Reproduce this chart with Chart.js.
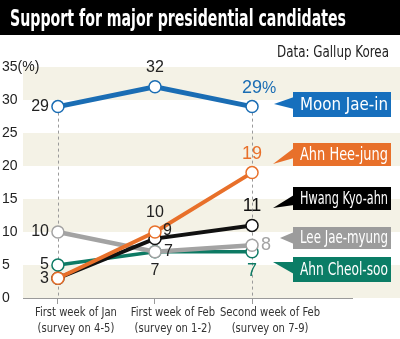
<!DOCTYPE html>
<html>
<head>
<meta charset="utf-8">
<script src="https://cdn.jsdelivr.net/npm/chart.js@4/dist/chart.umd.min.js"></script>
<style>
  html, body { margin: 0; padding: 0; background: #fff; }
  #wrap { width: 400px; height: 339px; }
</style>
</head>
<body>
<div id="wrap"><canvas id="pollChart" width="400" height="339"></canvas></div>
<script>
// survey rounds and support (%) per candidate
const surveyWeeks = [
  ['First week of Jan', '(survey on 4-5)'],
  ['First week of Feb', '(survey on 1-2)'],
  ['Second week of Feb', '(survey on 7-9)']
];
const candidates = ['Moon Jae-in', 'Ahn Hee-jung', 'Hwang Kyo-ahn', 'Lee Jae-myung', 'Ahn Cheol-soo'];
const moonJaeIn = [29, 32, 29];
const ahnHeeJung = [3, 10, 19];
const hwangKyoAhn = [3, 9, 11];
const leeJaeMyung = [10, 7, 8];
const ahnCheolSoo = [5, 7, 7];
const yTicks = [0, 5, 10, 15, 20, 25, 30, 35];

const NARROW = '"Liberation Sans Narrow", "DejaVu Sans Condensed", "Arial Narrow", sans-serif';
const PLAIN = '"Liberation Sans", Arial, sans-serif';

const colors = ['#1a6db4', '#e8702a', '#111111', '#a3a3a3', '#0d7a64'];
const tagColors = ['#166fbd', '#e8702a', '#000000', '#9c9c9c', '#0b7d66'];

// where each value label sits relative to its point
const labelSides = [
  ['left', 'top', 'top'],
  ['left', 'top', 'top'],
  [null, 'upright', 'top'],
  ['left', 'right', 'right'],
  ['left', 'bottom', 'bottom']
];

function series(i, values, width) {
  return {
    label: candidates[i],
    data: values.map((v, k) => ({ x: k, y: v })),
    borderColor: colors[i],
    borderWidth: width,
    pointRadius: 6,
    pointHoverRadius: 6,
    pointBorderWidth: 1.5,
    pointBorderColor: colors[i],
    pointBackgroundColor: '#ffffff',
    tension: 0,
    clip: false,
    sides: labelSides[i]
  };
}

// alternating shaded bands + title strip
const backdrop = {
  id: 'backdrop',
  beforeDraw(chart) {
    const { ctx, chartArea, scales: { y } } = chart;
    ctx.save();
    ctx.fillStyle = '#f4f2e6';
    for (let v = 0; v < 35; v += 10) {
      const top = y.getPixelForValue(v + 5), bottom = y.getPixelForValue(v);
      ctx.fillRect(chartArea.left, top, chart.width - chartArea.left, bottom - top);
    }
    ctx.fillStyle = '#000';
    ctx.fillRect(0, 0, chart.width, 35);
    ctx.fillStyle = '#fff';
    ctx.font = 'bold 23px ' + NARROW;
    ctx.textBaseline = 'alphabetic';
    ctx.textAlign = 'left';
    ctx.fillText('Support for major presidential candidates', 10, 26, 336);
    ctx.fillStyle = '#222';
    ctx.font = '15px ' + NARROW;
    ctx.textAlign = 'right';
    ctx.fillText('Data: Gallup Korea', 389, 57, 112);
    ctx.restore();
  }
};

// dashed guides at the first and last survey
const guides = {
  id: 'guides',
  beforeDatasetsDraw(chart) {
    const { ctx, scales: { x, y } } = chart;
    ctx.save();
    ctx.strokeStyle = '#9a9a9a';
    ctx.lineWidth = 1;
    ctx.setLineDash([3, 3]);
    [0, 2].forEach(k => {
      const px = Math.round(x.getPixelForValue(k)) + 0.5;
      ctx.beginPath();
      ctx.moveTo(px, y.getPixelForValue(moonJaeIn[k]));
      ctx.lineTo(px, y.getPixelForValue(0));
      ctx.stroke();
    });
    ctx.restore();
  }
};

// axis texts that need squeezing: the (%) unit and the two-line week labels
const axisText = {
  id: 'axisText',
  afterDraw(chart) {
    const { ctx, scales: { x, y } } = chart;
    ctx.save();
    ctx.fillStyle = '#222';
    ctx.font = '14px ' + PLAIN;
    ctx.textAlign = 'left';
    ctx.textBaseline = 'middle';
    ctx.fillText('(%)', 2 + ctx.measureText('35').width, y.getPixelForValue(35));
    ctx.fillStyle = '#333';
    ctx.font = '13px ' + NARROW;
    ctx.textAlign = 'center';
    // squeeze every label by the same factor
    const squeeze = Math.min(1, 82 / ctx.measureText(surveyWeeks[0][0]).width);
    const base = y.getPixelForValue(0);
    surveyWeeks.forEach((lines, k) => {
      const cx = x.getPixelForValue(k) + 18;
      lines.forEach((line, n) => {
        const w = ctx.measureText(line).width * squeeze;
        ctx.fillText(line, cx, base + 15 + n * 16, w);
      });
    });
    ctx.restore();
  }
};

// numbers next to the points
const valueLabels = {
  id: 'valueLabels',
  afterDatasetsDraw(chart) {
    const { ctx } = chart;
    ctx.save();
    ctx.textBaseline = 'middle';
    chart.data.datasets.forEach((ds, i) => {
      const meta = chart.getDatasetMeta(i);
      meta.data.forEach((pt, k) => {
        const side = ds.sides[k];
        if (!side) return;
        const last = k === 2;
        ctx.font = (last ? '18px ' : '16px ') + PLAIN;
        ctx.fillStyle = last ? colors[i] : '#222';
        let tx = pt.x, ty = pt.y;
        if (side === 'left') { ctx.textAlign = 'right'; tx -= 9; }
        else if (side === 'right') { ctx.textAlign = 'left'; tx += 9; }
        else if (side === 'upright') { ctx.textAlign = 'left'; tx += 8; ty -= 8; }
        else if (side === 'top') { ctx.textAlign = 'center'; ty -= 19; }
        else { ctx.textAlign = 'center'; ty += 19; }
        const text = String(ds.data[k].y);
        ctx.fillText(text, tx, ty);
        if (i === 0 && last) {
          ctx.font = '16px ' + PLAIN;
          ctx.textAlign = 'left';
          ctx.fillText('%', tx + 10, ty + 1);
        }
      });
    });
    ctx.restore();
  }
};

// name tags with pointers on the right
const tagBoxes = [
  { top: 92, bottom: 117, tip: [274, 104], base: [97, 109] },
  { top: 143, bottom: 166, tip: [273, 164], base: [148, 158] },
  { top: 187, bottom: 210, tip: [273, 208], base: [195, 205] },
  { top: 227, bottom: 249, tip: [280, 238], base: [232, 244] },
  { top: 257, bottom: 282, tip: [273, 262], base: [262, 274] }
];
const nameTags = {
  id: 'nameTags',
  afterDraw(chart) {
    const { ctx } = chart;
    ctx.save();
    tagBoxes.forEach((b, i) => {
      ctx.fillStyle = tagColors[i];
      ctx.fillRect(293, b.top, 98, b.bottom - b.top);
      ctx.beginPath();
      ctx.moveTo(294, b.base[0]);
      ctx.lineTo(b.tip[0], b.tip[1]);
      ctx.lineTo(294, b.base[1]);
      ctx.closePath();
      ctx.fill();
      ctx.fillStyle = '#fff';
      ctx.font = '17px ' + NARROW;
      ctx.textAlign = 'left';
      ctx.textBaseline = 'middle';
      ctx.fillText(candidates[i], 300, (b.top + b.bottom) / 2 + 1, 88);
    });
    ctx.restore();
  }
};

new Chart(document.getElementById('pollChart'), {
  type: 'line',
  data: {
    datasets: [
      series(0, moonJaeIn, 5),
      series(1, ahnHeeJung, 4),
      series(2, hwangKyoAhn, 4),
      series(3, leeJaeMyung, 4.5),
      series(4, ahnCheolSoo, 3.5)
    ]
  },
  options: {
    responsive: false,
    animation: false,
    devicePixelRatio: 1,
    layout: { padding: { top: 67, left: 2, right: 48, bottom: 0 } },
    plugins: { legend: { display: false }, tooltip: { enabled: false } },
    scales: {
      x: {
        type: 'linear',
        min: -0.36,
        max: 3.03,
        afterBuildTicks(scale) { scale.ticks = [0, 1, 2].map(v => ({ value: v })); },
        afterFit(scale) { scale.height = 41; },
        grid: { drawOnChartArea: false, drawTicks: true, tickLength: 6, color: '#9a9a9a' },
        border: { display: true, color: '#9a9a9a', width: 1 },
        ticks: { display: false }
      },
      y: {
        min: 0,
        max: 35,
        afterBuildTicks(scale) { scale.ticks = yTicks.map(v => ({ value: v })); },
        afterFit(scale) { scale.width = 21; },
        grid: { display: false },
        border: { display: false },
        ticks: {
          crossAlign: 'far',
          padding: 0,
          color: '#222',
          font: { family: PLAIN, size: 14 }
        }
      }
    }
  },
  plugins: [backdrop, guides, axisText, valueLabels, nameTags]
});
</script>
</body>
</html>
